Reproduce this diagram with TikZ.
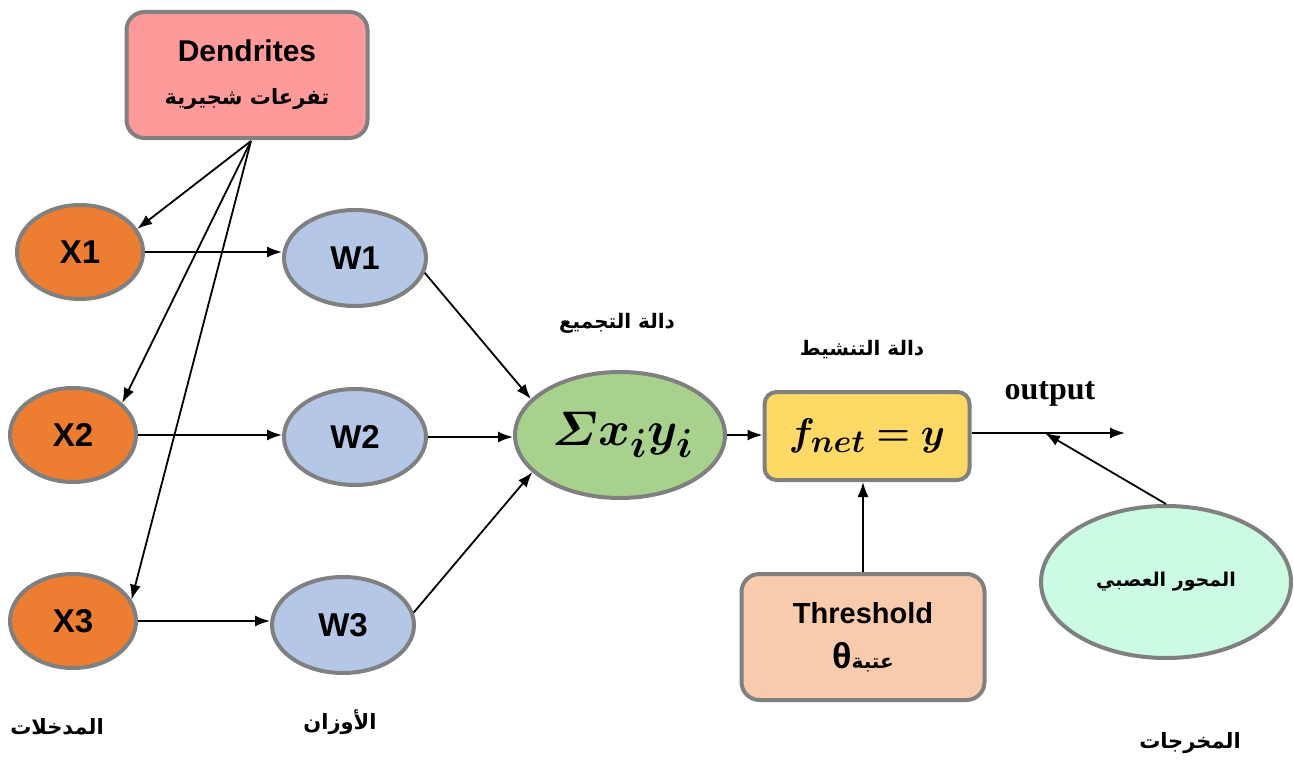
\documentclass[tikz,border=0pt]{standalone}
\usepackage{amsmath,bm}
\usepackage[no-math]{fontspec}
\setmainfont{Liberation Sans}
\newfontfamily\serifbold{Liberation Serif}
\newfontfamily\arabicfont[Script=Arabic]{DejaVu Sans}
\TeXXeTstate=1
\usetikzlibrary{shapes.geometric,arrows.meta}

\definecolor{edgegrey}{HTML}{808080}
\definecolor{dendfill}{HTML}{FF9A9A}
\definecolor{inputfill}{HTML}{ED7D31}
\definecolor{weightfill}{HTML}{B4C7E7}
\definecolor{sumfill}{HTML}{A9D18E}
\definecolor{actfill}{HTML}{FFD966}
\definecolor{thrfill}{HTML}{F8CBAD}
\definecolor{axonfill}{HTML}{CCFBE3}

\newcommand{\ar}[1]{{\arabicfont\beginR #1\endR}}
% math is set at the largest built-in size and then enlarged
\newcommand{\bigmath}[2]{\scalebox{#1}{\Huge$\bm{#2}$}}

\begin{document}
\begin{tikzpicture}[x=1pt,y=-1pt,
  roundbox/.style={draw=edgegrey, line width=4pt, rounded corners=18pt,
    inner sep=0pt, align=center},
  oval/.style={ellipse, draw=edgegrey, line width=4pt, inner sep=0pt},
  inputnode/.style={oval, fill=inputfill, minimum width=126pt, minimum height=94pt,
    font=\fontsize{33}{38}\selectfont\bfseries},
  weightnode/.style={oval, fill=weightfill, minimum width=142pt, minimum height=96pt,
    font=\fontsize{33}{38}\selectfont\bfseries},
  link/.style={line width=1.8pt, -{Latex[length=15pt,width=11pt]}},
  caption/.style={font=\fontsize{20}{24}\selectfont\bfseries}
]
\useasboundingbox (0,0) rectangle (1294,760);

% dendrites box and its branch point
\node[roundbox, fill=dendfill, minimum width=241pt, minimum height=126pt]
  (dend) at (247,75)
  {\fontsize{30}{34}\selectfont\bfseries Dendrites\\[26pt]
   \fontsize{21}{24}\selectfont\bfseries\ar{تفرعات شجيرية}};
\coordinate (branch) at (251,141);

% inputs
\node[inputnode] (x1) at (80,252) {X1};
\node[inputnode] (x2) at (73,435) {X2};
\node[inputnode] (x3) at (73,621) {X3};

% weights
\node[weightnode] (w1) at (355,258) {W1};
\node[weightnode] (w2) at (355,437) {W2};
\node[weightnode] (w3) at (343,625) {W3};

% summation
\node[oval, fill=sumfill, minimum width=210pt, minimum height=126pt] (sum) at (620,435)
  {\hspace{6pt}\bigmath{1.95}{\varSigma x_i y_i}};

% activation
\node[roundbox, fill=actfill, rounded corners=12pt, minimum width=205pt, minimum height=88pt]
  (act) at (867,436)
  {\bigmath{1.55}{f_{net} = y}};

% threshold
\node[roundbox, fill=thrfill, minimum width=243pt, minimum height=126pt]
  (thr) at (863,637)
  {\fontsize{29}{34}\selectfont\bfseries Threshold\\[18pt]
   {\fontsize{36}{38}\selectfont\bfseries θ}{\fontsize{20}{24}\selectfont\bfseries\ar{عتبة}}};

% axon
\node[oval, fill=axonfill, minimum width=250pt, minimum height=152pt] (axon) at (1166,582)
  {\fontsize{19}{24}\selectfont\bfseries\ar{المحور العصبي}};

% output line
\coordinate (outend) at (1125,433);
\coordinate (tap) at (1045,433);

% captions
\node[caption] (sumcap) at (617,323) {\ar{دالة التجميع}};
\node[caption] (actcap) at (862,350) {\ar{دالة التنشيط}};
\node[font=\fontsize{32}{36}\selectfont\serifbold\bfseries] (outcap) at (1050,394) {output};
\node[caption, font=\fontsize{21}{24}\selectfont\bfseries] (incap) at (57,727) {\ar{المدخلات}};
\node[caption, font=\fontsize{21}{24}\selectfont\bfseries] (wcap) at (340,722) {\ar{الأوزان}};
\node[caption, font=\fontsize{21}{24}\selectfont\bfseries] (outlab) at (1190,743) {\ar{المخرجات}};

% dendrites feed every input
\draw[link] (branch) -- (x1.22);
\draw[link] (branch) -- (x2.33);
\draw[link] (branch) -- (x3.20);

% inputs to weights
\draw[link] (x1.east) -- (x1.east -| w1.west);
\draw[link] (x2.east) -- (x2.east -| w2.west);
\draw[link] (x3.east) -- (x3.east -| w3.west);

% weights to summation
\draw[link] (w1.-12) -- (sum.158);
\draw[link] (w2.east) -- (w2.east -| sum.west);
\draw[link] (w3.10) -- (sum.203);

% summation to activation, activation to output
\draw[link] (sum.east) -- (sum.east -| act.west);
\draw[link] (act.east |- outend) -- (outend);
\draw[link] (thr.north) -- (thr.north |- act.south);
\draw[link] (axon.north) -- (tap);
\end{tikzpicture}
\end{document}
